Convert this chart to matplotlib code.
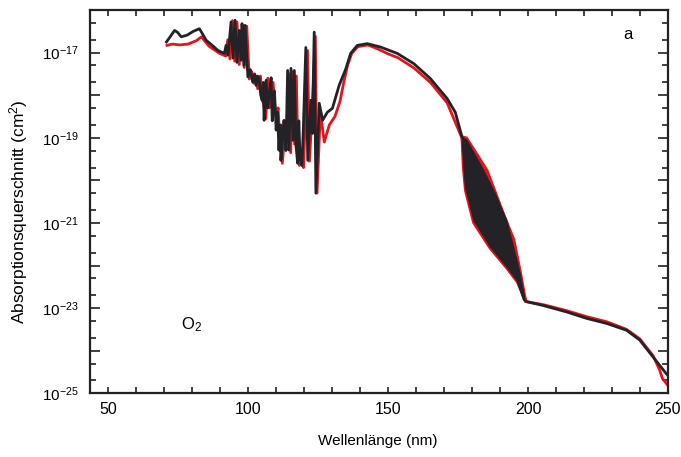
import numpy as np
import matplotlib
matplotlib.use("Agg")
import matplotlib.pyplot as plt
from matplotlib.ticker import LogLocator, FuncFormatter, MultipleLocator, NullFormatter, FixedLocator

plt.rcParams['font.family'] = ['Liberation Sans', 'DejaVu Sans']
plt.rcParams['mathtext.default'] = 'regular'

# O2 Absorptionsquerschnitt, Werte als log10(cm^2) aus dem Bild abgelesen
# schwarze Kurve (vor und nach den Schumann-Runge-Banden)
schwarz_nm = [70.8, 71.8, 73.7, 74.7, 76.1, 78.2, 80.4, 82.6, 85.0, 87.5, 89.2, 91.5,
              92.1, 92.8, 93.9, 94.6, 95.3, 96.0, 96.8, 97.5, 97.8, 98.5, 98.9,
              99.9, 100.8, 101.6, 102.3, 102.8, 103.4, 103.9, 104.5, 105.0, 105.4,
              105.7, 106.4, 107.0, 107.5, 108.2, 108.6, 108.9, 109.4, 110.0, 110.5,
              111.0, 111.4, 111.7, 112.3, 112.8, 113.5, 114.1, 114.6, 115.3, 116.0,
              116.5, 117.1, 117.7, 118.1, 118.5, 119.2, 119.7, 120.6, 121.3, 122.4,
              122.9, 123.6, 124.2, 125.4, 126.6, 128.3, 130.1,
              132.5, 134.9, 136.6, 139.0, 142.6, 147.3, 153.3, 159.2, 165.1, 171.1,
              174.0, 176.4,
              199.6, 205.5, 213.8, 220.9, 228.1, 235.2, 239.9, 244.7, 249.4, 250.0]
schwarz_log = [-16.75, -16.66, -16.48, -16.52, -16.63, -16.59, -16.50, -16.44, -16.71, -16.85,
               -16.95, -17.02, -16.83, -17.06, -16.28, -17.13, -16.24, -17.23, -16.48, -17.18,
               -16.32, -17.30, -16.36,
               -17.57, -17.40, -17.69, -17.50, -17.77, -17.55, -17.60, -18.00, -18.12, -17.70,
               -18.59, -17.65, -18.30, -18.00, -17.59, -18.60, -18.35, -17.90, -18.82, -18.40,
               -19.29, -18.70, -19.53, -19.00, -18.59, -19.30, -17.42, -19.29, -17.37, -19.06,
               -17.42, -19.20, -19.60, -18.60, -19.41, -19.65, -18.80, -16.88, -19.53, -18.12,
               -18.90, -16.52, -20.30, -18.19, -18.59, -18.40, -18.31,
               -17.77, -17.38, -17.02, -16.83, -16.79, -16.87, -17.02, -17.26, -17.61, -18.08,
               -18.40, -18.98,
               -22.85, -22.94, -23.09, -23.24, -23.36, -23.52, -23.75, -24.15, -24.54, -24.58]

# rote Kurve
rot_nm = [71.0, 73.0, 75.5, 78.5, 81.5, 83.3, 86.0, 89.8, 92.0, 92.7, 93.5, 94.4, 95.2,
          96.0, 96.8, 97.8, 98.6, 99.5, 100.4, 101.3, 102.0, 102.8, 103.4, 104.4, 105.0,
          105.5, 106.3, 107.0, 107.6, 108.0, 108.9, 109.5, 110.0, 110.7, 111.3, 111.8,
          112.2, 113.2, 114.0, 114.6, 115.2, 115.9, 116.6, 117.2, 117.8, 118.3, 119.0,
          119.8, 121.2, 121.9, 123.0, 124.0, 124.6, 125.8, 127.2, 129.0,
          131.0, 132.8, 134.0, 135.5, 137.0, 139.2, 142.8, 146.5, 150.0, 153.5, 159.2,
          165.1, 171.1, 176.0,
          199.6, 205.5, 213.8, 220.9, 228.1, 235.2, 239.9, 244.7, 247.0, 248.0, 250.0]
rot_log = [-16.83, -16.80, -16.82, -16.80, -16.72, -16.63, -16.85, -17.02, -17.08, -16.70,
           -17.15, -16.25, -17.20, -16.28, -17.28, -16.50, -17.35, -16.38, -17.62, -17.45,
           -17.72, -17.55, -17.85, -17.55, -18.10, -18.20, -18.55, -17.60, -18.30, -18.05,
           -17.70, -18.20, -18.50, -18.30, -19.10, -18.70, -19.60, -18.80, -19.10, -17.50,
           -19.35, -17.45, -19.15, -17.55, -19.40, -19.65, -19.40, -19.70, -16.95, -19.55,
           -18.20, -16.62, -20.30, -18.40, -19.10, -18.70,
           -18.50, -18.15, -17.75, -17.30, -17.02, -16.86, -16.82, -16.92, -17.03, -17.12,
           -17.36, -17.70, -18.18, -18.95,
           -22.85, -22.92, -23.06, -23.20, -23.32, -23.50, -23.72, -24.12, -24.45, -24.65, -24.82]

# Schumann-Runge-Banden: obere und untere Huellkurve
band_oben_nm = [176.4, 178.2, 184.1, 188.3, 192.4, 194.8, 197.2, 199.0, 199.6]
band_oben_log = [-18.98, -19.06, -19.76, -20.31, -20.94, -21.56, -22.19, -22.82, -22.85]
band_unten_nm = [176.4, 176.9, 177.6, 180.6, 186.5, 192.4, 196.0, 198.4, 199.6]
band_unten_log = [-18.98, -19.53, -20.15, -20.94, -21.56, -22.03, -22.35, -22.82, -22.85]

rot_band_oben_nm = [176.0, 178.2, 185.6, 191.4, 195.2, 197.6, 199.0, 199.6]
rot_band_oben_log = [-18.95, -18.99, -19.76, -20.77, -21.39, -22.18, -22.69, -22.85]
rot_band_unten_nm = [176.0, 176.2, 176.6, 177.4, 180.3, 186.2, 192.2, 196.0, 198.9, 199.6]
rot_band_unten_log = [-18.95, -19.10, -19.70, -20.25, -21.00, -21.60, -22.07, -22.40, -22.86, -22.85]

schwarz = '#232327'
rot = '#e2141c'

fig = plt.figure(figsize=(6.81, 4.57), dpi=100)
ax = fig.add_axes([0.1322, 0.1394, 0.8487, 0.8387])

# Kurven an der Bandenluecke teilen
i_s = schwarz_nm.index(199.6)
i_r = rot_nm.index(199.6)

# rot zuerst, schwarz obendrauf
ax.fill(rot_band_oben_nm + rot_band_unten_nm[::-1],
        10.0**np.array(rot_band_oben_log + rot_band_unten_log[::-1]),
        color=rot, lw=1.0, ec=rot)
for a, b in [(0, i_r), (i_r, len(rot_nm))]:
    ax.plot(rot_nm[a:b], 10.0**np.array(rot_log[a:b]), color=rot, lw=2.0)

ax.fill(band_oben_nm + band_unten_nm[::-1],
        10.0**np.array(band_oben_log + band_unten_log[::-1]),
        color=schwarz, lw=0.8, ec=schwarz)
for a, b in [(0, i_s), (i_s, len(schwarz_nm))]:
    ax.plot(schwarz_nm[a:b], 10.0**np.array(schwarz_log[a:b]), color=schwarz, lw=2.0)

ax.set_yscale('log')
ax.set_xlim(43.5, 250)
ax.set_ylim(1e-25, 1e-16)

ax.xaxis.set_major_locator(MultipleLocator(50))
ax.xaxis.set_minor_locator(MultipleLocator(10))
ax.yaxis.set_major_locator(FixedLocator([10.0**e for e in range(-25, -16)]))
ax.yaxis.set_minor_locator(LogLocator(base=10, subs=(2, 5), numticks=20))
ax.yaxis.set_minor_formatter(NullFormatter())


def ylabel_fmt(v, pos):
    e = int(round(np.log10(v)))
    if e % 2 == 0:
        return ''
    return '$10^{%d}$' % e


ax.yaxis.set_major_formatter(FuncFormatter(ylabel_fmt))

ax.tick_params(which='both', direction='in', top=True, right=True, width=1.2, color='#222222')
ax.tick_params(axis='y', which='major', length=7, labelsize=11, pad=8)
ax.tick_params(axis='y', which='minor', length=4.5)
ax.tick_params(axis='x', which='both', length=4.5, labelsize=11.5, pad=6)
for s in ax.spines.values():
    s.set_linewidth(1.6)
    s.set_color('#222222')

ax.set_xlabel('Wellenlänge (nm)', fontsize=11)
ax.set_ylabel('Absorptionsquerschnitt (cm$^2$)', fontsize=12.5)
ax.xaxis.set_label_coords(0.497, -0.105)
ax.yaxis.set_label_coords(-0.104, 0.473)

ax.text(0.931, 0.935, 'a', transform=ax.transAxes, fontsize=12, ha='center', va='center')
ax.text(0.175, 0.178, 'O$_2$', transform=ax.transAxes, fontsize=12, ha='center', va='center')

fig.savefig('out.png', dpi=100)
